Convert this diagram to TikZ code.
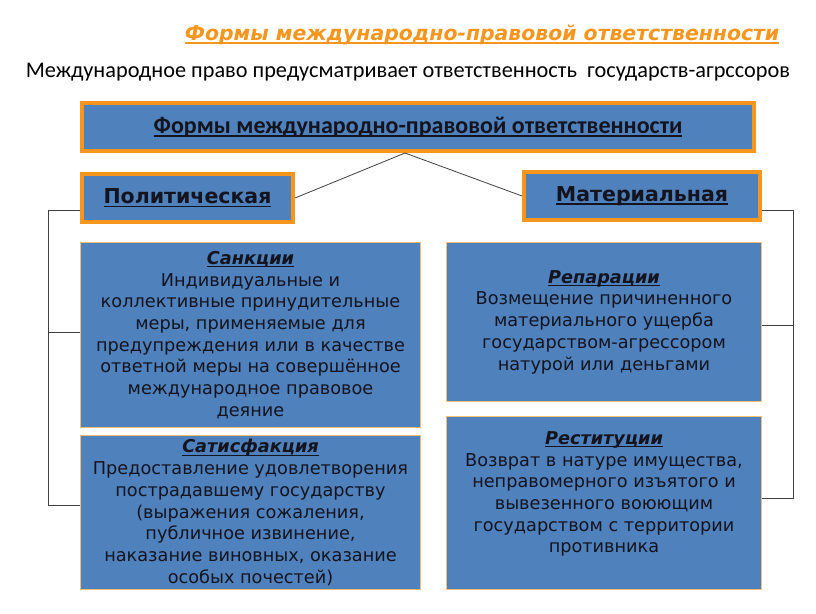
\documentclass[tikz,border=0pt]{standalone}
\usepackage{fontspec}
\setmainfont{DejaVu Sans}
\newfontfamily\calibri{Carlito}
\usetikzlibrary{positioning}

\definecolor{boxblue}{RGB}{79,129,189}
\definecolor{boxorange}{RGB}{247,150,30}
\definecolor{lightorange}{RGB}{246,190,110}
\definecolor{inktext}{RGB}{20,20,30}

\tikzset{
  headbox/.style={draw=boxorange, line width=4pt, fill=boxblue, inner sep=0pt, text=inktext},
  itembox/.style={draw=lightorange, line width=1.2pt, fill=boxblue, inner sep=0pt, align=center, text=inktext,
    font=\fontsize{17.7}{21.7}\selectfont},
  conn/.style={draw=black!75, line width=0.8pt}
}

\newsavebox\ulbox
\newcommand{\uln}[1]{\sbox\ulbox{#1}\rlap{\usebox\ulbox}\rule[-0.16em]{\wd\ulbox}{0.07em}}
\newcommand{\heading}[1]{\uln{\textbf{\textit{#1}}}}

\begin{document}
\begin{tikzpicture}[x=1pt, y=-1pt]
          \useasboundingbox[fill=white] (0,0) rectangle (816,613);

          \node (title) [text=boxorange, font=\fontsize{20.4}{24}\selectfont] at (482,35) {\heading{Формы международно-правовой ответственности}};
          \node (intro) [font=\calibri\fontsize{22.3}{26}\selectfont] at (408,72) {Международное право предусматривает ответственность\ \ государств-агрссоров};

          \begin{scope}[every node/.style={headbox}]
            \node (forms) [minimum width=672pt, minimum height=48pt, font=\calibri\fontsize{24}{28}\selectfont] at (418,127) {\uln{\textbf{Формы международно-правовой ответственности}}};
            \node (pol) [minimum width=211pt, minimum height=48pt, font=\fontsize{20.5}{24}\selectfont] at (187.5,198) {\uln{\textbf{Политическая}}};
            \node (mat) [minimum width=236pt, minimum height=48pt, font=\fontsize{20.5}{24}\selectfont] at (642,196) {\uln{\textbf{Материальная}}};
          \end{scope}

          \begin{scope}[every node/.style={itembox}]
            \node (sanc) [minimum width=340pt, minimum height=185pt] at (250.5,335) {\heading{Санкции}\\
              Индивидуальные и\\ коллективные принудительные\\ меры, применяемые для\\ предупреждения или в качестве\\ ответной меры на совершённое\\ международное правовое\\ деяние};
            \node (sat) [minimum width=340pt, minimum height=154pt] at (250.5,512.5) {\heading{Сатисфакция}\\
              Предоставление удовлетворения\\ пострадавшему государству\\ (выражения сожаления,\\ публичное извинение,\\ наказание виновных, оказание\\ особых почестей)};
            \node (rep) [minimum width=315pt, minimum height=159pt] at (604,322) {\heading{Репарации}\\
              Возмещение причиненного\\ материального ущерба\\ государством-агрессором\\ натурой или деньгами};
            \node (rest) [minimum width=315pt, minimum height=173pt] at (604,503) {\heading{Реституции}\\
              Возврат в натуре имущества,\\ неправомерного изъятого и\\ вывезенного воюющим\\ государством с территории\\ противника\\ \mbox{}};
          \end{scope}

          % brackets on both sides
          \coordinate (ltop) at (48,210);
          \coordinate (lmid) at (48,332);
          \coordinate (lbot) at (48,505);
          \coordinate (rtop) at (793,210);
          \coordinate (rmid) at (793,325);
          \coordinate (rbot) at (793,498);

          \path[conn] (forms.south) ++(-13,0) coordinate (apex);
          \draw[conn] (pol.east) -- (apex) -- (mat.west);
          \draw[conn] (pol.west |- ltop) -- (ltop) -- (lbot) -- (sat.west |- lbot);
          \draw[conn] (lmid) -- (sanc.west |- lmid);
          \draw[conn] (mat.east |- rtop) -- (rtop) -- (rbot) -- (rest.east |- rbot);
          \draw[conn] (rmid) -- (rep.east |- rmid);
        \end{tikzpicture}
\end{document}
